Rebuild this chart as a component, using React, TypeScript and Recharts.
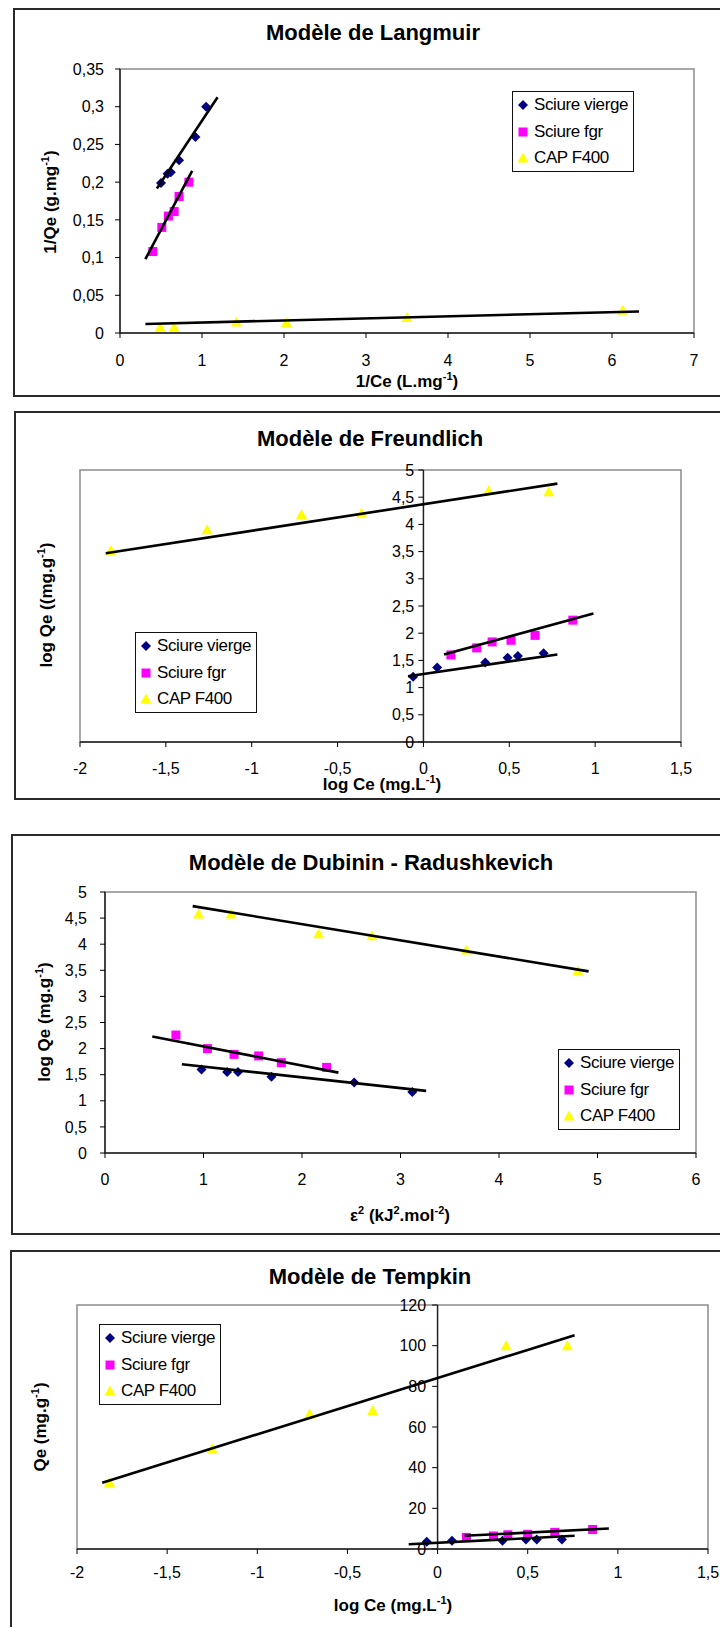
import React from 'react';
import { Legend, ReferenceArea, ReferenceLine, Scatter, ScatterChart, XAxis, YAxis } from 'recharts';

type Pair = [number, number];

// Modèle de Langmuir : 1/Ce (L.mg-1) vs 1/Qe (g.mg-1)
const langVierge: Pair[] = [[0.5, 0.199], [0.58, 0.211], [0.62, 0.213], [0.72, 0.229], [0.92, 0.26], [1.05, 0.3]];
const langFgr: Pair[] = [[0.4, 0.108], [0.51, 0.14], [0.59, 0.155], [0.66, 0.161], [0.72, 0.181], [0.84, 0.2]];
const langCap: Pair[] = [[0.49, 0.0075], [0.66, 0.0075], [1.42, 0.0145], [2.03, 0.014], [3.5, 0.0207], [6.13, 0.03]];
const langFitVierge: Pair[] = [[0.45, 0.1915], [1.19, 0.3126]];
const langFitFgr: Pair[] = [[0.31, 0.098], [0.88, 0.215]];
const langFitCap: Pair[] = [[0.31, 0.012], [6.33, 0.0286]];
const langXTicks = [0, 1, 2, 3, 4, 5, 6, 7];
const langYTicks = [0, 0.05, 0.1, 0.15, 0.2, 0.25, 0.3, 0.35];

// Modèle de Freundlich : log Ce vs log Qe
const frVierge: Pair[] = [[-0.06, 1.2], [0.08, 1.37], [0.36, 1.46], [0.49, 1.55], [0.55, 1.58], [0.7, 1.63]];
const frFgr: Pair[] = [[0.16, 1.6], [0.31, 1.73], [0.4, 1.84], [0.51, 1.87], [0.65, 1.96], [0.87, 2.24]];
const frCap: Pair[] = [[-1.82, 3.52], [-1.26, 3.9], [-0.71, 4.18], [-0.36, 4.21], [0.38, 4.62], [0.73, 4.6]];
const frFitVierge: Pair[] = [[-0.09, 1.21], [0.78, 1.61]];
const frFitFgr: Pair[] = [[0.12, 1.61], [0.99, 2.36]];
const frFitCap: Pair[] = [[-1.85, 3.47], [0.78, 4.75]];
const frXTicks = [-2, -1.5, -1, -0.5, 0, 0.5, 1, 1.5];
const frYTicks = [0, 0.5, 1, 1.5, 2, 2.5, 3, 3.5, 4, 4.5, 5];

// Modèle de Dubinin - Radushkevich : epsilon² vs log Qe
const drVierge: Pair[] = [[0.98, 1.6], [1.24, 1.55], [1.35, 1.55], [1.69, 1.46], [2.53, 1.35], [3.12, 1.17]];
const drFgr: Pair[] = [[0.72, 2.26], [1.04, 2.0], [1.31, 1.89], [1.56, 1.86], [1.79, 1.73], [2.25, 1.64]];
const drCap: Pair[] = [[0.95, 4.58], [1.28, 4.58], [2.17, 4.2], [2.71, 4.16], [3.67, 3.89], [4.8, 3.49]];
const drFitVierge: Pair[] = [[0.78, 1.7], [3.26, 1.19]];
const drFitFgr: Pair[] = [[0.48, 2.23], [2.37, 1.54]];
const drFitCap: Pair[] = [[0.89, 4.73], [4.91, 3.48]];
const drXTicks = [0, 1, 2, 3, 4, 5, 6];
const drYTicks = [0, 0.5, 1, 1.5, 2, 2.5, 3, 3.5, 4, 4.5, 5];

// Modèle de Tempkin : log Ce vs Qe
const tkVierge: Pair[] = [[-0.06, 3.6], [0.08, 4.1], [0.36, 4.1], [0.49, 4.7], [0.55, 4.7], [0.69, 4.7]];
const tkFgr: Pair[] = [[0.16, 5.7], [0.31, 6.4], [0.39, 7.0], [0.5, 7.2], [0.65, 8.2], [0.86, 9.6]];
const tkCap: Pair[] = [[-1.82, 32.7], [-1.25, 49.3], [-0.71, 66.4], [-0.36, 68.1], [0.38, 100], [0.72, 100]];
const tkFitVierge: Pair[] = [[-0.16, 2.3], [0.76, 6.5]];
const tkFitFgr: Pair[] = [[0.15, 6.5], [0.95, 10.1]];
const tkFitCap: Pair[] = [[-1.86, 32.6], [0.76, 105.1]];
const tkXTicks = [-2, -1.5, -1, -0.5, 0, 0.5, 1, 1.5];
const tkYTicks = [0, 20, 40, 60, 80, 100, 120];

const seriesNames = ['Sciure vierge', 'Sciure fgr', 'CAP F400'];

const FONT = '"Liberation Sans", Arial, sans-serif';
const NAVY = '#000080';
const MAGENTA = '#ff00ff';
const YELLOW = '#ffff00';
const X_H = 30;
const Y_W = 50;

const toPts = (arr: Pair[]) => arr.map(([x, y]) => ({ x, y }));
const fmt = (v: number) => String(v).replace('.', ',');

const Diamond = (p: any) => (
  <polygon points={`${p.cx},${p.cy - 5} ${p.cx + 5},${p.cy} ${p.cx},${p.cy + 5} ${p.cx - 5},${p.cy}`} fill={NAVY} />
);
const Square = (p: any) => <rect x={p.cx - 4.5} y={p.cy - 4.5} width={9} height={9} fill={MAGENTA} />;
const Triangle = (p: any) => (
  <polygon points={`${p.cx},${p.cy - 5.5} ${p.cx + 5.5},${p.cy + 4.5} ${p.cx - 5.5},${p.cy + 4.5}`} fill={YELLOW} />
);
const NoDot = () => <g />;
const markers = [Diamond, Square, Triangle];

function LegendBox() {
  return (
    <div
      style={{
        width: 122,
        height: 81,
        border: '1.5px solid #111',
        background: '#fff',
        boxSizing: 'border-box',
        position: 'relative',
        fontFamily: FONT,
        fontSize: 17,
        letterSpacing: -0.4,
        color: '#000',
      }}
    >
      {seriesNames.map((name, i) => {
        const Mark = markers[i];
        return (
          <div key={name} style={{ position: 'absolute', left: 3, top: 2 + i * 26.5, height: 22, display: 'flex', alignItems: 'center', whiteSpace: 'nowrap' }}>
            <svg width={14} height={14}>
              <Mark cx={7} cy={7} />
            </svg>
            <span style={{ marginLeft: 4 }}>{name}</span>
          </div>
        );
      })}
    </div>
  );
}

interface PanelProps {
  chartTop: number;
  height: number;
  plot: { l: number; t: number; r: number; b: number };
  xDomain: [number, number];
  yDomain: [number, number];
  xTicks: number[];
  yTicks: number[];
  yAtZero: boolean;
  yTickLen: number;
  xTickMargin: number;
  yTickMargin: number;
  points: Pair[][];
  fits: Pair[][];
  legend: { x: number; y: number };
}

function IsothermChart(p: PanelProps) {
  const margin = {
    top: p.plot.t - p.chartTop,
    right: 720 - p.plot.r,
    left: p.plot.l - (p.yAtZero ? 0 : Y_W),
    bottom: p.chartTop + p.height - p.plot.b - X_H,
  };
  const tickStyle = { fill: '#000', fontSize: 16, fontFamily: FONT };
  return (
    <div style={{ position: 'absolute', left: 0, top: p.chartTop }}>
      <ScatterChart width={720} height={p.height} margin={margin}>
        <ReferenceArea
          x1={p.xDomain[0]}
          x2={p.xDomain[1]}
          y1={p.yDomain[0]}
          y2={p.yDomain[1]}
          fill="none"
          stroke="#8c8c8c"
          strokeWidth={1.5}
        />
        <XAxis
          type="number"
          dataKey="x"
          domain={p.xDomain}
          ticks={p.xTicks}
          interval={0}
          allowDataOverflow
          height={X_H}
          tickSize={5}
          tickMargin={p.xTickMargin}
          axisLine={{ stroke: '#222', strokeWidth: 1.5 }}
          tickLine={{ stroke: '#000' }}
          tick={tickStyle}
          tickFormatter={fmt}
        />
        <YAxis
          type="number"
          dataKey="y"
          domain={p.yDomain}
          ticks={p.yTicks}
          interval={0}
          allowDataOverflow
          hide={p.yAtZero}
          width={Y_W}
          tickSize={5}
          tickMargin={p.yTickMargin}
          axisLine={{ stroke: '#222', strokeWidth: 1.5 }}
          tickLine={{ stroke: '#000' }}
          tick={tickStyle}
          tickFormatter={fmt}
        />
        {p.yAtZero && <ReferenceLine x={0} stroke="#222" strokeWidth={1.5} />}
        {p.yAtZero &&
          p.yTicks.map((v) => (
            <ReferenceLine
              key={v}
              segment={[
                { x: -p.yTickLen, y: v },
                { x: 0, y: v },
              ]}
              stroke="#000"
              label={{ value: fmt(v), position: 'left', offset: p.yTickMargin, fill: '#000', fontSize: 16, fontFamily: FONT }}
            />
          ))}
        {p.points.map((pts, i) => (
          <Scatter
            key={`pts-${i}`}
            name={seriesNames[i]}
            data={toPts(pts)}
            shape={markers[i]}
            isAnimationActive={false}
          />
        ))}
        {p.fits.map((pts, i) => (
          <Scatter
            key={`fit-${i}`}
            data={toPts(pts)}
            shape={NoDot}
            line={{ stroke: '#000', strokeWidth: 2.6 }}
            legendType="none"
            isAnimationActive={false}
          />
        ))}
        <Legend
          layout="vertical"
          align="center"
          verticalAlign="middle"
          content={() => <LegendBox />}
          wrapperStyle={{ left: p.legend.x, top: p.legend.y - p.chartTop, width: 122, height: 81 }}
        />
      </ScatterChart>
    </div>
  );
}

const Sup = ({ children }: { children: React.ReactNode }) => (
  <span style={{ fontSize: 11, position: 'relative', top: -7 }}>{children}</span>
);

function Text({ x, y, children, size = 17, rotate = false }: { x: number; y: number; children: React.ReactNode; size?: number; rotate?: boolean }) {
  return (
    <div
      style={{
        position: 'absolute',
        left: x,
        top: y,
        transform: `translate(-50%, -50%)${rotate ? ' rotate(-90deg)' : ''}`,
        whiteSpace: 'nowrap',
        fontFamily: FONT,
        fontWeight: 'bold',
        fontSize: size,
        color: '#000',
        lineHeight: 1,
      }}
    >
      {children}
    </div>
  );
}

function Frame({ x, y, h }: { x: number; y: number; h: number }) {
  return (
    <div
      style={{
        position: 'absolute',
        left: x,
        top: y,
        width: 760,
        height: h,
        border: '2px solid #2a2a2a',
        boxSizing: 'border-box',
      }}
    />
  );
}

export default function App() {
  return (
    <div style={{ position: 'fixed', left: 0, top: 0, width: 720, height: 1627, overflow: 'hidden', background: '#fff' }}>
      <Frame x={13} y={8} h={389} />
      <Frame x={14} y={411} h={389} />
      <Frame x={11} y={834} h={401} />
      <Frame x={10} y={1250} h={420} />

      <IsothermChart
        chartTop={0}
        height={400}
        plot={{ l: 120, t: 69, r: 694, b: 333 }}
        xDomain={[0, 7]}
        yDomain={[0, 0.35]}
        xTicks={langXTicks}
        yTicks={langYTicks}
        yAtZero={false}
        yTickLen={0}
        xTickMargin={17}
        yTickMargin={11}
        points={[langVierge, langFgr, langCap]}
        fits={[langFitVierge, langFitFgr, langFitCap]}
        legend={{ x: 512, y: 91 }}
      />
      <IsothermChart
        chartTop={405}
        height={400}
        plot={{ l: 80, t: 470, r: 681, b: 742 }}
        xDomain={[-2, 1.5]}
        yDomain={[0, 5]}
        xTicks={frXTicks}
        yTicks={frYTicks}
        yAtZero={true}
        yTickLen={0.03}
        xTickMargin={16}
        yTickMargin={4}
        points={[frVierge, frFgr, frCap]}
        fits={[frFitVierge, frFitFgr, frFitCap]}
        legend={{ x: 135, y: 632 }}
      />
      <IsothermChart
        chartTop={830}
        height={410}
        plot={{ l: 105, t: 892, r: 696, b: 1153 }}
        xDomain={[0, 6]}
        yDomain={[0, 5]}
        xTicks={drXTicks}
        yTicks={drYTicks}
        yAtZero={false}
        yTickLen={0}
        xTickMargin={16}
        yTickMargin={13}
        points={[drVierge, drFgr, drCap]}
        fits={[drFitVierge, drFitFgr, drFitCap]}
        legend={{ x: 558, y: 1049 }}
      />
      <IsothermChart
        chartTop={1245}
        height={382}
        plot={{ l: 77, t: 1305, r: 708, b: 1549 }}
        xDomain={[-2, 1.5]}
        yDomain={[0, 120]}
        xTicks={tkXTicks}
        yTicks={tkYTicks}
        yAtZero={true}
        yTickLen={0.03}
        xTickMargin={13}
        yTickMargin={6}
        points={[tkVierge, tkFgr, tkCap]}
        fits={[tkFitVierge, tkFitFgr, tkFitCap]}
        legend={{ x: 99, y: 1324 }}
      />

      <Text x={373} y={33} size={22}>Modèle de Langmuir</Text>
      <Text x={50} y={202} rotate>
        1/Qe (g.mg<Sup>-1</Sup>)
      </Text>
      <Text x={407} y={381}>
        1/Ce (L.mg<Sup>-1</Sup>)
      </Text>

      <Text x={370} y={439} size={22}>Modèle de Freundlich</Text>
      <Text x={46} y={605} rotate>
        log Qe ((mg.g<Sup>-1</Sup>)
      </Text>
      <Text x={382} y={784}>
        log Ce (mg.L<Sup>-1</Sup>)
      </Text>

      <Text x={371} y={863} size={22}>Modèle de Dubinin - Radushkevich</Text>
      <Text x={44} y={1022} rotate>
        log Qe (mg.g<Sup>-1</Sup>)
      </Text>
      <Text x={400} y={1215}>
        ε<Sup>2</Sup> (kJ<Sup>2</Sup>.mol<Sup>-2</Sup>)
      </Text>

      <Text x={370} y={1277} size={22}>Modèle de Tempkin</Text>
      <Text x={40} y={1427} rotate>
        Qe (mg.g<Sup>-1</Sup>)
      </Text>
      <Text x={393} y={1605}>
        log Ce (mg.L<Sup>-1</Sup>)
      </Text>
    </div>
  );
}
